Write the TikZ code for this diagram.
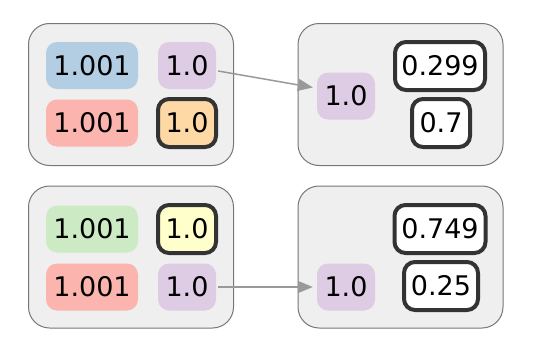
\documentclass[tikz,border=0pt]{standalone}
\usepackage{fontspec}
\setmainfont{DejaVu Sans}
\usetikzlibrary{arrows.meta}
\definecolor{grpfill}{HTML}{EFEFEF}
\definecolor{grpline}{HTML}{777777}
\definecolor{pickline}{HTML}{333333}
\definecolor{linkgray}{HTML}{999999}
\definecolor{cblue}{HTML}{B3CDE3}
\definecolor{cred}{HTML}{FBB4AE}
\definecolor{cpurple}{HTML}{DECBE4}
\definecolor{corange}{HTML}{FED9A6}
\definecolor{cgreen}{HTML}{CCEBC5}
\definecolor{cyellow}{HTML}{FFFFCC}
\tikzset{
  group/.style={draw=grpline, fill=grpfill, line width=1pt, rounded corners=21pt,
    minimum width=205pt, minimum height=142pt},
  val/.style={rounded corners=11pt, inner sep=0pt, minimum height=47pt,
    font=\fontsize{27}{30}\selectfont},
  wide/.style={val, minimum width=92pt},
  narrow/.style={val, minimum width=58pt},
  picked/.style={draw=pickline, line width=4pt, minimum height=48pt},
  link/.style={draw=linkgray, line width=1.5pt, shorten <=2pt, shorten >=4pt,
    -{Triangle[length=15pt, width=12pt]}}
}
\begin{document}
\begin{tikzpicture}[x=1pt, y=-1pt]
\useasboundingbox (0,0) rectangle (538,364);
% top row
\node[group] (tl) at (131,94.5) {};
\node[group] (tr) at (400.5,94.5) {};
\node[wide, fill=cblue] (ta) at (92,65.5) {1.001};
\node[narrow, fill=cpurple] (tp) at (187,65.5) {1.0};
\node[wide, fill=cred] (tb) at (92,123) {1.001};
\node[narrow, picked, fill=corange] (to) at (187,123) {1.0};
\node[narrow, fill=cpurple] (rp) at (346,96) {1.0};
\node[val, picked, fill=white, minimum width=90pt] (ra) at (440,66) {0.299};
\node[narrow, picked, fill=white] (rb) at (441,123) {0.7};
\draw[link] (tp.-10) -- (rp.165);

% bottom row
\node[group] (bl) at (131,257) {};
\node[group] (br) at (400.5,257) {};
\node[wide, fill=cgreen] (ba) at (92,229) {1.001};
\node[narrow, picked, fill=cyellow] (by) at (187,229) {1.0};
\node[wide, fill=cred] (bb) at (92,287) {1.001};
\node[narrow, fill=cpurple] (bp) at (187,287) {1.0};
\node[narrow, fill=cpurple] (sp) at (346,287) {1.0};
\node[val, picked, fill=white, minimum width=91pt] (sa) at (440,229) {0.749};
\node[val, picked, fill=white, minimum width=74pt] (sb) at (441,286) {0.25};
\draw[link] (bp) -- (sp);
\end{tikzpicture}
\end{document}
